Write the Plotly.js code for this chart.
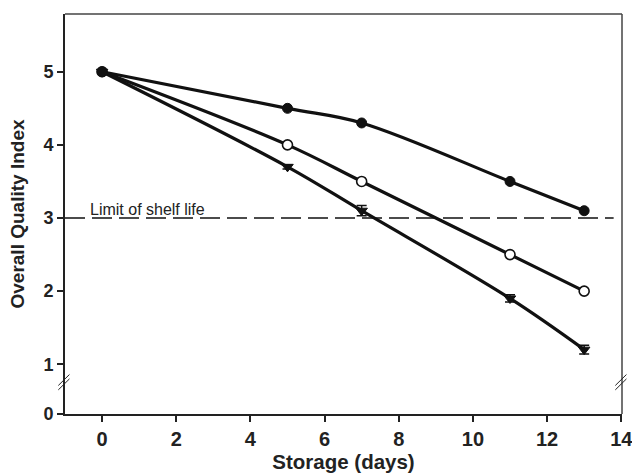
<!DOCTYPE html>
<html>
<head>
<meta charset="utf-8">
<script src="https://cdn.plot.ly/plotly-3.0.1.min.js"></script>
<style>html,body{margin:0;padding:0;background:#fff;}#chart{width:632px;height:476px;}</style>
</head>
<body>
<div id="chart"></div>
<script>
// Data
const days = [0, 5, 7, 11, 13];
const seriesFilled = [5.0, 4.5, 4.3, 3.5, 3.1];
const seriesOpen = [5.0, 4.0, 3.5, 2.5, 2.0];
const seriesTriangle = [5.0, 3.7, 3.1, 1.9, 1.2];
const triangleErr = [0, 0.03, 0.07, 0.05, 0.06];
const filledErr = [0, 0, 0, 0.03, 0];
const shelfLimit = 3;
const xTicks = [0, 2, 4, 6, 8, 10, 12, 14];
const xTickLabels = ['0', '2', '4', '6', '8', '10', '12', '14'];
const yTickLabels = ['0', '1', '2', '3', '4', '5'];
// axis break: the "0" tick sits closer to "1" than a full unit
const zeroPos = 0.32;
const yTickVals = [zeroPos, 1, 2, 3, 4, 5];

const lineStyle = {color: '#111', width: 3.2, shape: 'spline', smoothing: 1};
const traces = [
  {x: days, y: seriesTriangle, mode: 'lines+markers', line: lineStyle,
   error_y: {type: 'data', array: triangleErr, color: '#111', thickness: 1.5, width: 5},
   marker: {symbol: 'triangle-down', size: 10, color: '#111', line: {color: '#111', width: 1}}},
  {x: days, y: seriesOpen, mode: 'lines+markers', line: lineStyle,
   marker: {symbol: 'circle', size: 10, color: '#fff', line: {color: '#111', width: 1.6}}},
  {x: days, y: seriesFilled, mode: 'lines+markers', line: lineStyle,
   error_y: {type: 'data', array: filledErr, color: '#111', thickness: 1.5, width: 4},
   marker: {symbol: 'circle', size: 10, color: '#111', line: {color: '#111', width: 1}}}
];

const fam = 'Liberation Sans, Arial, sans-serif';
const bold = s => '<b>' + s + '</b>';
const layout = {
  width: 632, height: 476,
  margin: {l: 65, r: 10, t: 14, b: 62},
  paper_bgcolor: '#fff', plot_bgcolor: '#fff',
  showlegend: false,
  font: {family: fam, color: '#222'},
  xaxis: {
    range: [-1, 14.02], tickvals: xTicks, ticktext: xTickLabels.map(bold), ticks: 'outside', ticklen: 6, tickwidth: 2, tickcolor: '#222',
    showline: true, linecolor: '#222', linewidth: 2, mirror: false, showgrid: false, zeroline: false, automargin: false,
    ticklabeloverflow: 'allow',
    tickfont: {family: fam, size: 20, color: '#222'},
    title: {text: '<b>Storage (days)</b>', font: {family: fam, size: 20.5, color: '#222'}, standoff: 2}
  },
  yaxis: {
    range: [zeroPos, 5.79], tickvals: yTickVals, ticktext: yTickLabels.map(bold), ticks: 'outside', ticklen: 6, tickwidth: 2, tickcolor: '#222',
    showline: true, linecolor: '#222', linewidth: 2, showgrid: false, zeroline: false, automargin: false,
    ticklabeloverflow: 'allow',
    tickfont: {family: fam, size: 18, color: '#222'},
    title: {text: '<b>Overall Quality Index</b>', font: {family: fam, size: 19, color: '#222'}, standoff: 14}
  },
  shapes: [
    // top and right frame
    {type: 'line', xref: 'paper', yref: 'paper', x0: 0, x1: 1, y0: 1, y1: 1, line: {color: '#444', width: 1.5}},
    {type: 'line', xref: 'paper', yref: 'paper', x0: 1, x1: 1, y0: 0, y1: 1, line: {color: '#444', width: 1.5}},
    // shelf-life limit
    {type: 'line', xref: 'paper', yref: 'y', x0: 0, x1: 0.985, y0: shelfLimit, y1: shelfLimit, line: {color: '#111', width: 1.3, dash: '20px,7px'}},
    // axis break marks (left)
    {type: 'line', xref: 'paper', yref: 'y', x0: -0.012, x1: 0.008, y0: 0.71, y1: 0.86, line: {color: '#222', width: 1}},
    {type: 'line', xref: 'paper', yref: 'y', x0: -0.012, x1: 0.008, y0: 0.65, y1: 0.80, line: {color: '#222', width: 1}},
    // axis break marks (right)
    {type: 'line', xref: 'paper', yref: 'y', x0: 0.988, x1: 1.008, y0: 0.71, y1: 0.86, line: {color: '#222', width: 1}},
    {type: 'line', xref: 'paper', yref: 'y', x0: 0.988, x1: 1.008, y0: 0.65, y1: 0.80, line: {color: '#222', width: 1}}
  ],
  annotations: [
    {text: 'Limit of shelf life', xref: 'x', yref: 'y', x: -0.38, y: shelfLimit, xanchor: 'left', yanchor: 'bottom',
     showarrow: false, yshift: -2, font: {family: fam, size: 16, color: '#222'}}
  ]
};

Plotly.newPlot('chart', traces, layout, {staticPlot: true, displayModeBar: false});
</script>
</body>
</html>
